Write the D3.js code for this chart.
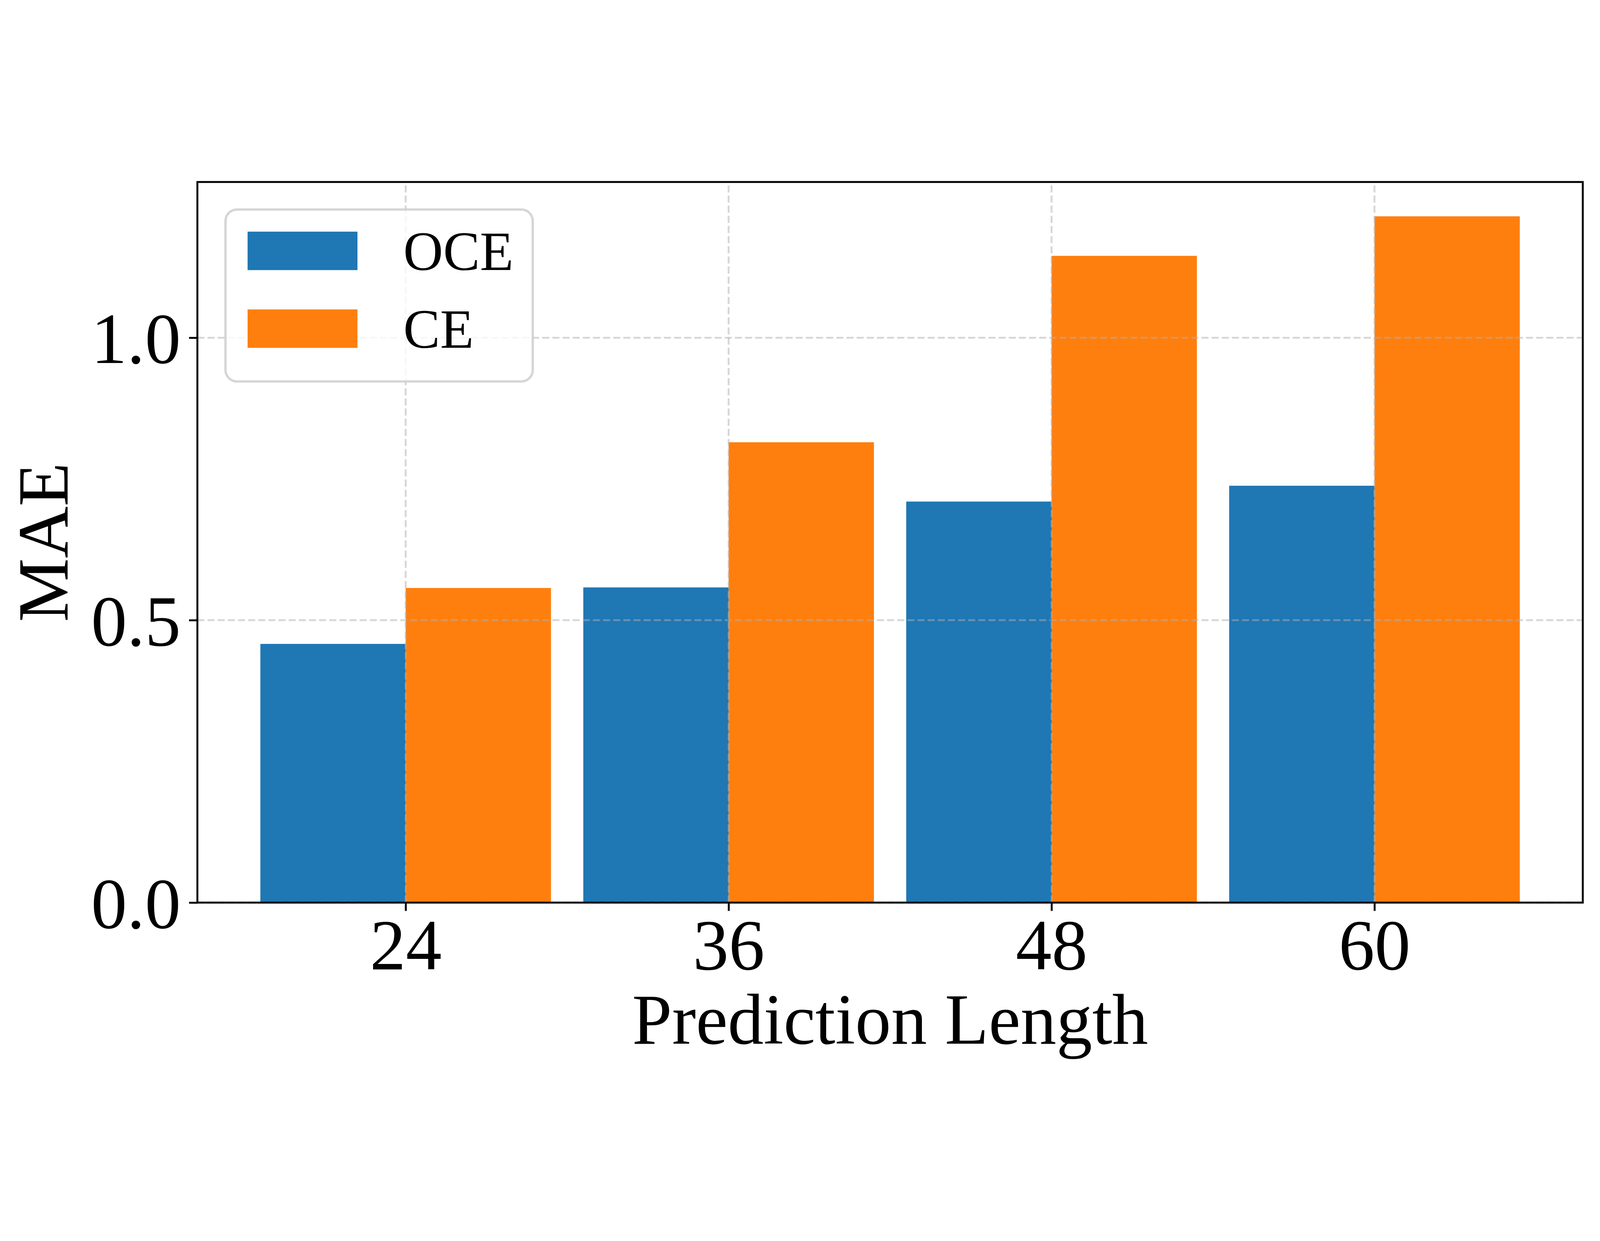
<!DOCTYPE html>
<html>
<head>
<meta charset="utf-8">
<script src="https://cdn.jsdelivr.net/npm/d3@7"></script>
<style>
  html, body { margin: 0; padding: 0; background: #fff; overflow: hidden; }
  svg { display: block; width: 100vw; height: 100vh; }
</style>
</head>
<body>
<div id="chart"></div>
<script>
// values
const categories = ["24", "36", "48", "60"];
const seriesNames = ["OCE", "CE"];
const oceValues = [0.458, 0.558, 0.710, 0.738];
const ceValues = [0.557, 0.815, 1.145, 1.215];
const yTickValues = [0, 0.5, 1.0];

const COLORS = {"OCE": "#1f77b4", "CE": "#ff7f0e"};
const FONT = "'Liberation Serif', 'Times New Roman', serif";

const width = 5577;
const height = 3176;
const marginTop = 60;
const marginRight = 60;
const marginBottom = 605;
const marginLeft = 688;
const lw = 6.67;          // 0.8pt at 600 dpi
const tickSize = 29;
const fontSize = 250;
const legendFont = 192;

const barWidth = 0.45;
const n = categories.length;
const pad = 0.05 * (n - 1 + 2 * barWidth);

const x = d3.scaleLinear()
    .domain([-barWidth - pad, n - 1 + barWidth + pad])
    .range([marginLeft, width - marginRight]);

const y = d3.scaleLinear()
    .domain([0, d3.max(oceValues.concat(ceValues)) * 1.05])
    .range([height - marginBottom, marginTop]);

// the viewBox keeps the whole figure in the window whatever its css size
const svg = d3.select("#chart").append("svg")
    .attr("viewBox", [0, 0, width, height])
    .attr("preserveAspectRatio", "xMidYMid meet");

svg.append("rect")
    .attr("width", width)
    .attr("height", height)
    .attr("fill", "#fff");

// bars: OCE left of the tick, CE right of it
const series = [
    {name: "OCE", values: oceValues, offset: -barWidth},
    {name: "CE", values: ceValues, offset: 0}
];

svg.append("g")
    .selectAll("g")
    .data(series)
    .join("g")
        .attr("fill", d => COLORS[d.name])
    .selectAll("rect")
    .data(d => d.values.map((v, i) => ({i, v, offset: d.offset})))
    .join("rect")
        .attr("x", d => x(d.i + d.offset))
        .attr("width", d => x(d.i + d.offset + barWidth) - x(d.i + d.offset))
        .attr("y", d => y(d.v))
        .attr("height", d => y(0) - y(d.v));

// dashed grid above the bars
const grid = svg.append("g")
    .attr("stroke", "#b0b0b0")
    .attr("stroke-opacity", 0.5)
    .attr("stroke-width", lw)
    .attr("stroke-dasharray", `${3.7 * lw},${1.6 * lw}`);

grid.selectAll(".hgrid")
    .data(yTickValues)
    .join("line")
        .attr("class", "hgrid")
        .attr("x1", marginLeft)
        .attr("x2", width - marginRight)
        .attr("y1", d => y(d))
        .attr("y2", d => y(d));

grid.selectAll(".vgrid")
    .data(d3.range(n))
    .join("line")
        .attr("class", "vgrid")
        .attr("x1", d => x(d))
        .attr("x2", d => x(d))
        .attr("y1", height - marginBottom)
        .attr("y2", marginTop);

// axes
const xAxis = svg.append("g")
    .attr("transform", `translate(0,${height - marginBottom})`)
    .call(d3.axisBottom(x)
        .tickValues(d3.range(n))
        .tickFormat(i => categories[i])
        .tickSize(tickSize)
        .tickSizeOuter(0)
        .tickPadding(26));

const yAxis = svg.append("g")
    .attr("transform", `translate(${marginLeft},0)`)
    .call(d3.axisLeft(y)
        .tickValues(yTickValues)
        .tickFormat(d3.format(".1f"))
        .tickSize(tickSize)
        .tickSizeOuter(0)
        .tickPadding(29));

[xAxis, yAxis].forEach(g => {
    g.select(".domain").remove();
    g.selectAll("line").attr("stroke", "#000").attr("stroke-width", lw);
    g.selectAll("text")
        .attr("fill", "#000")
        .style("font-family", FONT)
        .style("font-size", fontSize + "px");
});
yAxis.selectAll("text").attr("dy", "0.35em");

// frame
svg.append("rect")
    .attr("x", marginLeft)
    .attr("y", marginTop)
    .attr("width", width - marginLeft - marginRight)
    .attr("height", height - marginTop - marginBottom)
    .attr("fill", "none")
    .attr("stroke", "#000")
    .attr("stroke-width", lw);

// axis labels
svg.append("text")
    .attr("x", (marginLeft + width - marginRight) / 2)
    .attr("y", height - marginBottom + 491)
    .attr("text-anchor", "middle")
    .style("font-family", FONT)
    .style("font-size", fontSize + "px")
    .text("Prediction Length");

svg.append("text")
    .attr("transform", `translate(236,${(marginTop + height - marginBottom) / 2}) rotate(-90)`)
    .attr("text-anchor", "middle")
    .style("font-family", FONT)
    .style("font-size", fontSize + "px")
    .text("MAE");

// legend
const legendX = marginLeft + 98;
const legendY = marginTop + 96;
const legendW = 1071;
const legendH = 599;
const handleW = 383;
const handleH = 134;
const rowStep = 271;

const legend = svg.append("g")
    .attr("transform", `translate(${legendX},${legendY})`);

legend.append("rect")
    .attr("width", legendW)
    .attr("height", legendH)
    .attr("rx", 40)
    .attr("fill", "#fff")
    .attr("fill-opacity", 0.8)
    .attr("stroke", "#cccccc")
    .attr("stroke-opacity", 0.8)
    .attr("stroke-width", 8.3);

const legendItem = legend.selectAll(".legendItem")
    .data(seriesNames)
    .join("g")
        .attr("class", "legendItem")
        .attr("transform", (d, i) => `translate(77,${77 + i * rowStep})`);

legendItem.append("rect")
    .attr("width", handleW)
    .attr("height", handleH)
    .attr("fill", d => COLORS[d]);

legendItem.append("text")
    .attr("x", handleW + 160)
    .attr("y", handleH)
    .style("font-family", FONT)
    .style("font-size", legendFont + "px")
    .text(d => d);
</script>
</body>
</html>
